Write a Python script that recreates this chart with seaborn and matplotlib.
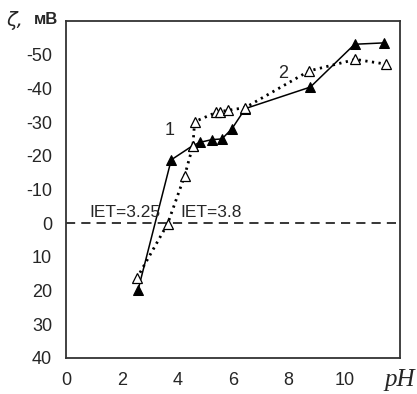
import numpy as np
import pandas as pd
import matplotlib
matplotlib.use('Agg')
import matplotlib.pyplot as plt
import seaborn as sns

# curve 1 (filled triangles, solid line)
ph_1 = [2.59, 3.78, 4.55, 4.82, 5.24, 5.6, 5.96, 6.44, 8.78, 10.37, 11.41]
zeta_1 = [19.8, -18.8, -23.0, -24.0, -24.8, -25.0, -28.0, -34.0, -40.4, -53.1, -53.5]

# curve 2 (open triangles, dotted line)
ph_2 = [2.54, 3.65, 4.26, 4.56, 4.62, 5.4, 5.52, 5.82, 6.44, 8.74, 10.4, 11.5]
zeta_2 = [16.4, 0.2, -14.0, -23.0, -30.1, -32.9, -33.1, -33.5, -34.3, -45.2, -48.6, -47.2]

x_ticks = [0, 2, 4, 6, 8, 10, 12]
x_labels = ['0', '2', '4', '6', '8', '10', '']
y_ticks = [-50, -40, -30, -20, -10, 0, 10, 20, 30, 40]

sns.set_theme(style='white')
plt.rcParams['font.family'] = ['Liberation Sans', 'DejaVu Sans']

fig = plt.figure(figsize=(4.17, 3.94), dpi=100)
ax = fig.add_axes([66 / 417, 1 - 358 / 394, 334 / 417, 337 / 394])

df1 = pd.DataFrame({'pH': ph_1, 'zeta': zeta_1})
df2 = pd.DataFrame({'pH': ph_2, 'zeta': zeta_2})

sns.lineplot(data=df1, x='pH', y='zeta', ax=ax, sort=False, color='black',
             linewidth=1.1, marker='^', markersize=6.5, markerfacecolor='black',
             markeredgecolor='black')
sns.lineplot(data=df2, x='pH', y='zeta', ax=ax, sort=False, color='black',
             linewidth=2.0, linestyle=(0, (0.8, 1.6)), marker='^', markersize=6.5,
             markerfacecolor='white', markeredgecolor='black', markeredgewidth=0.9)

# zero line
ax.axhline(0, color='black', linewidth=1.1, linestyle=(0, (6, 4)))

ax.set_xlim(0, 12)
ax.set_ylim(40, -60)
ax.set_xticks(x_ticks)
ax.set_xticklabels(x_labels)
ax.set_yticks(y_ticks)
ax.set_yticklabels([str(v) for v in y_ticks])
ax.set_xlabel('')
ax.set_ylabel('')

for side in ['left', 'bottom', 'right', 'top']:
    ax.spines[side].set_color('#333333')
    ax.spines[side].set_linewidth(1.3)
ax.tick_params(axis='both', which='major', direction='out', length=4, width=1.2,
               color='#333333', labelsize=13, pad=6)

ax.text(3.74, -27.5, '1', fontsize=13, ha='center', va='center')
ax.text(7.8, -44.5, '2', fontsize=13, ha='center', va='center')
ax.text(0.85, -3.2, 'IET=3.25', fontsize=12.5, ha='left', va='center')
ax.text(4.1, -3.2, 'IET=3.8', fontsize=12.5, ha='left', va='center')

fig.text(6 / 417, 1 - 21 / 394, 'ζ,', fontsize=14, ha='left', va='center',
         family=['DejaVu Sans'], style='italic')
fig.text(34 / 417, 1 - 20 / 394, 'мВ', fontsize=12, ha='left', va='center',
         weight='bold')
fig.text(384 / 417, 1 - 380 / 394, 'pH', fontsize=18, ha='left', va='center',
         family=['Liberation Serif', 'DejaVu Serif'], style='italic')

plt.savefig('out.png', dpi=100)
